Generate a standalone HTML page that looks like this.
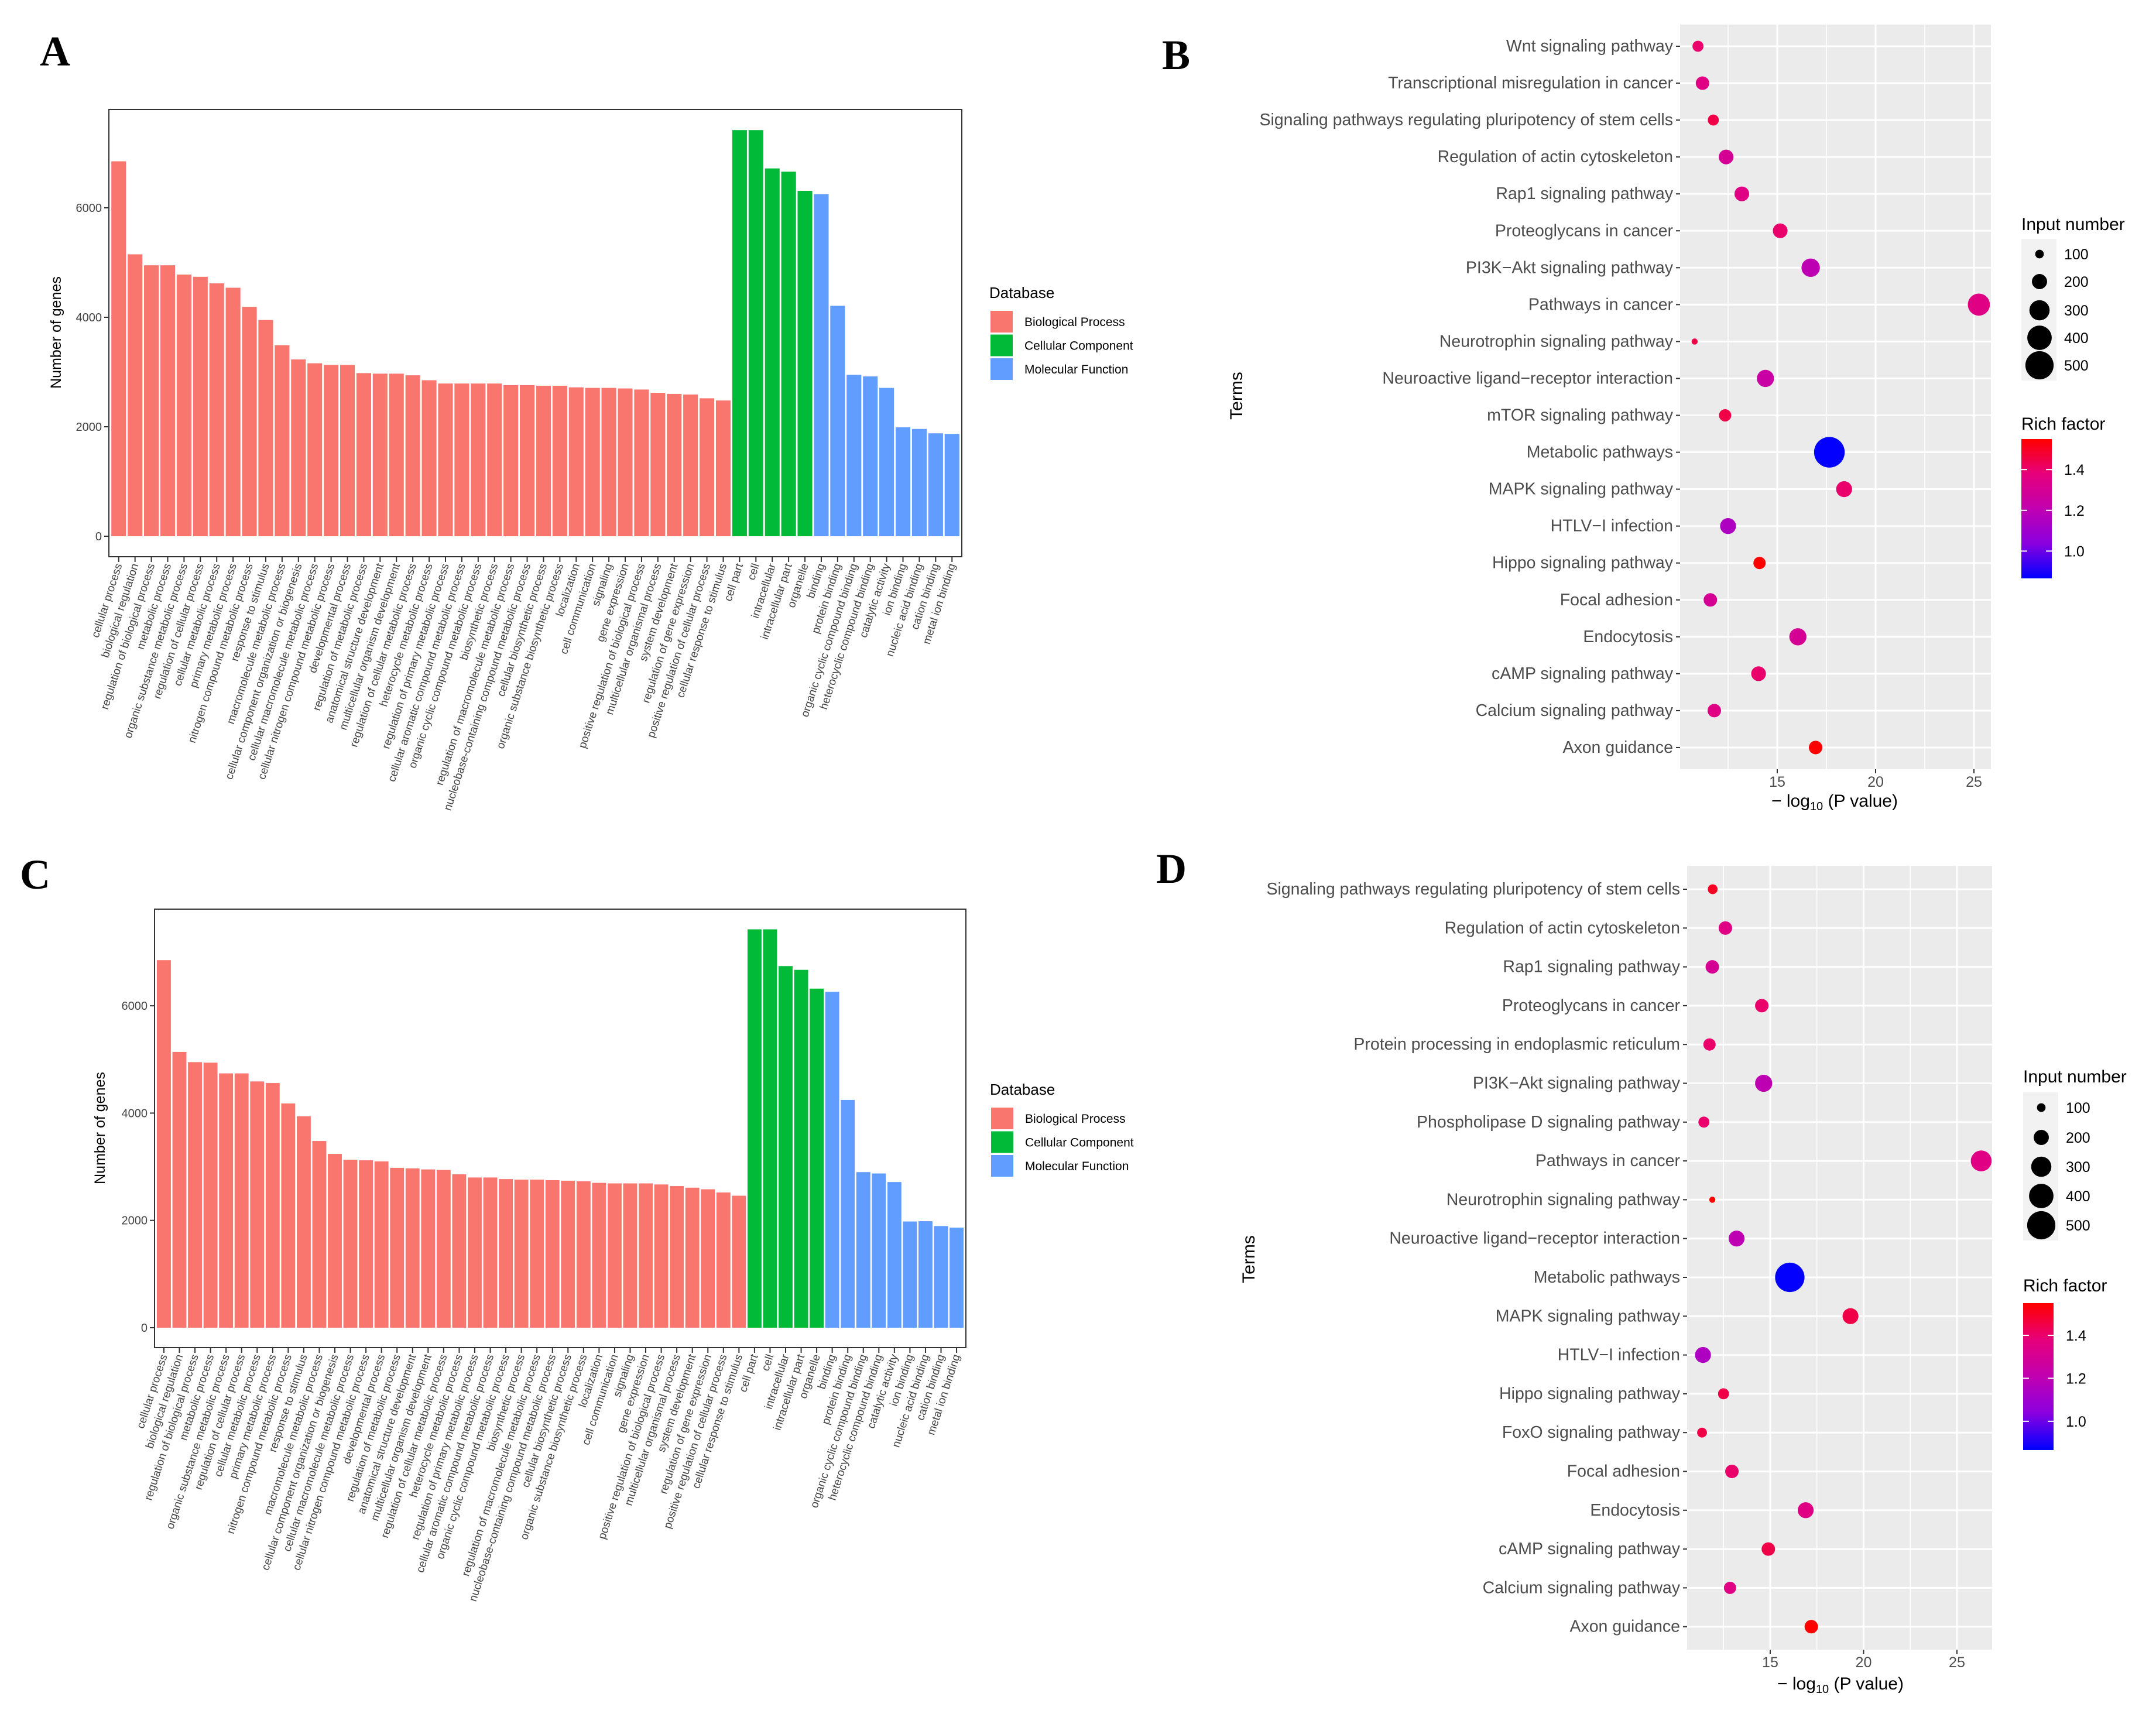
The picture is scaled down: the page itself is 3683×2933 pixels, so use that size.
<!DOCTYPE html>
<html><head><meta charset="utf-8"><style>
html,body{margin:0;padding:0;background:#fff;}
svg{display:block;font-family:"Liberation Sans",sans-serif;}
.pl{font-family:"Liberation Serif",serif;font-weight:bold;font-size:72px;}
</style></head><body>
<svg id="fig" width="3683" height="2933" viewBox="0 0 3683 2933" xmlns="http://www.w3.org/2000/svg">
<text class="pl" x="68" y="112">A</text>
<text class="pl" x="1985" y="118">B</text>
<text class="pl" x="34" y="1518">C</text>
<text class="pl" x="1975" y="1508">D</text>
</svg>
<script>
const goTerms = ["cellular process","biological regulation","regulation of biological process","metabolic process","organic substance metabolic process","regulation of cellular process","cellular metabolic process","primary metabolic process","nitrogen compound metabolic process","response to stimulus","macromolecule metabolic process","cellular component organization or biogenesis","cellular macromolecule metabolic process","cellular nitrogen compound metabolic process","developmental process","regulation of metabolic process","anatomical structure development","multicellular organism development","regulation of cellular metabolic process","heterocycle metabolic process","regulation of primary metabolic process","cellular aromatic compound metabolic process","organic cyclic compound metabolic process","biosynthetic process","regulation of macromolecule metabolic process","nucleobase-containing compound metabolic process","cellular biosynthetic process","organic substance biosynthetic process","localization","cell communication","signaling","gene expression","positive regulation of biological process","multicellular organismal process","system development","regulation of gene expression","positive regulation of cellular process","cellular response to stimulus","cell part","cell","intracellular","intracellular part","organelle","binding","protein binding","organic cyclic compound binding","heterocyclic compound binding","catalytic activity","ion binding","nucleic acid binding","cation binding","metal ion binding"];
const goCategories = ["BP","BP","BP","BP","BP","BP","BP","BP","BP","BP","BP","BP","BP","BP","BP","BP","BP","BP","BP","BP","BP","BP","BP","BP","BP","BP","BP","BP","BP","BP","BP","BP","BP","BP","BP","BP","BP","BP","CC","CC","CC","CC","CC","MF","MF","MF","MF","MF","MF","MF","MF","MF"];
const geneCountsA = [6850,5150,4950,4950,4780,4740,4620,4540,4190,3950,3490,3230,3160,3130,3130,2980,2970,2970,2940,2850,2790,2790,2790,2790,2760,2760,2750,2750,2720,2710,2710,2700,2680,2620,2600,2590,2520,2480,7420,7420,6720,6660,6310,6250,4210,2950,2920,2710,1990,1960,1880,1870];
const geneCountsC = [6850,5140,4950,4940,4740,4740,4590,4560,4180,3940,3480,3240,3130,3120,3100,2980,2970,2950,2940,2860,2800,2800,2770,2760,2760,2750,2740,2730,2700,2690,2690,2690,2670,2640,2610,2580,2520,2460,7425,7425,6740,6670,6320,6260,4245,2900,2875,2715,1980,1985,1895,1865];
const yTicksBar = [0,2000,4000,6000];
const dbNames = ["Biological Process","Cellular Component","Molecular Function"];
const dbNamesC = ["Biological Process","Cellular Component","Molecular Function"];

const termsB = ["Wnt signaling pathway","Transcriptional misregulation in cancer","Signaling pathways regulating pluripotency of stem cells","Regulation of actin cytoskeleton","Rap1 signaling pathway","Proteoglycans in cancer","PI3K\u2212Akt signaling pathway","Pathways in cancer","Neurotrophin signaling pathway","Neuroactive ligand\u2212receptor interaction","mTOR signaling pathway","Metabolic pathways","MAPK signaling pathway","HTLV\u2212I infection","Hippo signaling pathway","Focal adhesion","Endocytosis","cAMP signaling pathway","Calcium signaling pathway","Axon guidance"];
const pvalB = [10.97,11.2,11.75,12.4,13.2,15.15,16.7,25.25,10.8,14.4,12.35,17.65,18.4,12.5,14.1,11.6,16.05,14.05,11.8,16.95];
const inputB = [133,171,133,192,192,192,262,342,71,237,152,571,214,214,152,171,237,192,171,171];
const richB = [1.4,1.35,1.45,1.3,1.35,1.4,1.2,1.35,1.45,1.25,1.45,0.87,1.4,1.15,1.55,1.3,1.3,1.4,1.35,1.55];

const termsD = ["Signaling pathways regulating pluripotency of stem cells","Regulation of actin cytoskeleton","Rap1 signaling pathway","Proteoglycans in cancer","Protein processing in endoplasmic reticulum","PI3K\u2212Akt signaling pathway","Phospholipase D signaling pathway","Pathways in cancer","Neurotrophin signaling pathway","Neuroactive ligand\u2212receptor interaction","Metabolic pathways","MAPK signaling pathway","HTLV\u2212I infection","Hippo signaling pathway","FoxO signaling pathway","Focal adhesion","Endocytosis","cAMP signaling pathway","Calcium signaling pathway","Axon guidance"];
const pvalD = [11.92,12.6,11.9,14.55,11.75,14.65,11.45,26.3,11.9,13.2,16.05,19.3,11.4,12.5,11.35,12.95,16.9,14.9,12.85,17.2];
const inputD = [116,171,171,171,152,237,133,314,71,214,535,214,214,133,116,171,214,171,152,171];
const richD = [1.5,1.35,1.3,1.4,1.4,1.2,1.4,1.35,1.55,1.2,0.87,1.45,1.15,1.45,1.45,1.4,1.35,1.45,1.35,1.55];
const xTicksDot = [15,20,25];
const sizeLegend = [100,200,300,400,500];
const richTicks = [1.0,1.2,1.4];

const NS="http://www.w3.org/2000/svg";
const svg=document.getElementById('fig');
function mk(tag,attrs,parent){const e=document.createElementNS(NS,tag);for(const k in attrs)e.setAttribute(k,attrs[k]);(parent||svg).appendChild(e);return e;}
const catColor={BP:"#F8766D",CC:"#00BA38",MF:"#619CFF"};
const legColors=["#F8766D","#00BA38","#619CFF"];

function barChart(g,L,R,zeroY,pxPer,top,bottom,values,legX,legY,names,ytX,ytY){
  const n=values.length;
  const yS=v=>zeroY-v*pxPer;
  const pitch=(R-L)/(n+0.2);
  const xC=i=>L+pitch*(0.6+i);
  const frame=mk('rect',{x:L,y:top,width:R-L,height:bottom-top,fill:'#fff',stroke:'#333',"stroke-width":2},g);
  
  
  values.forEach((v,i)=>{
    const b=mk('rect',{x:xC(i)-pitch*0.45,y:yS(v),width:pitch*0.9,height:v*pxPer,fill:catColor[goCategories[i]]},g);
    
    
    mk('line',{x1:xC(i),x2:xC(i),y1:bottom,y2:bottom+9,stroke:'#333',"stroke-width":2},g);
    const t=mk('text',{x:0,y:0,"font-size":19,fill:'#444',"text-anchor":'end',transform:`translate(${xC(i)+6},${bottom+14}) rotate(-72)`},g);
    t.textContent=goTerms[i];
    
    
  });
  yTicksBar.forEach(v=>{
    mk('line',{x1:L-8,x2:L,y1:yS(v),y2:yS(v),stroke:'#333',"stroke-width":2},g);
    const t=mk('text',{x:L-12,y:yS(v)+7,"font-size":20,fill:'#444',"text-anchor":'end'},g);
    t.textContent=v;
    
    
  });
  const yt=mk('text',{x:0,y:0,"font-size":25,fill:'#000',"text-anchor":'middle',transform:`translate(${ytX},${ytY}) rotate(-90)`},g);
  yt.textContent='Number of genes';
  
  
  const lt=mk('text',{x:legX,y:legY,"font-size":26,fill:'#000'},g);
  lt.textContent='Database';
  
  
  names.forEach((nm,k)=>{
    const r=mk('rect',{x:legX+2,y:legY+22+k*40.5,width:38,height:37,fill:legColors[k]},g);
    
    
    const t=mk('text',{x:legX+60,y:legY+48+k*40.5,"font-size":21,fill:'#000'},g);
    t.textContent=nm;
    
    
  });
}
const gA=mk('g',{});


barChart(gA,186,1643,916,187/2000,187,951,geneCountsA,1690,509,dbNames,104,568);
const gC=mk('g',{});


barChart(gC,264,1650,2268,183.3/2000,1553,2302,geneCountsC,1691,1870,dbNamesC,179,1927);

const rampStops=[[0,0,255],[138,0,224],[192,0,176],[230,0,122],[255,0,0]];
function rich2color(v){let t=(v-0.866)/(1.55-0.866);t=Math.max(0,Math.min(1,t));
  const p=t*4;const k=Math.min(3,Math.floor(p));const f=p-k;const a=rampStops[k],b=rampStops[k+1];
  return `rgb(${Math.round(a[0]+(b[0]-a[0])*f)},${Math.round(a[1]+(b[1]-a[1])*f)},${Math.round(a[2]+(b[2]-a[2])*f)})`;}
function rad(n){return Math.max(3,1.355*Math.sqrt(n)-6.2);}

function dotChart(g,o,terms,pv,inp,rich){
  const xS=v=>o.L+(v-o.xmin)*o.ppu;
  const yS=i=>o.y0+i*o.dy;
  const bg=mk('rect',{x:o.L,y:o.T,width:o.R-o.L,height:o.B-o.T,fill:'#EBEBEB'},g);
  
  
  xTicksDot.forEach(v=>{
    mk('line',{x1:xS(v-2.5),x2:xS(v-2.5),y1:o.T,y2:o.B,stroke:'#fff',"stroke-width":1.5},g);
  });
  mk('line',{x1:xS(27.5),x2:xS(27.5),y1:o.T,y2:o.B,stroke:'#fff',"stroke-width":1.5},g);
  terms.forEach((tm,i)=>{
    mk('line',{x1:o.L,x2:o.R,y1:yS(i),y2:yS(i),stroke:'#fff',"stroke-width":3},g);
  });
  xTicksDot.forEach(v=>{
    mk('line',{x1:xS(v),x2:xS(v),y1:o.T,y2:o.B,stroke:'#fff',"stroke-width":3},g);
    mk('line',{x1:xS(v),x2:xS(v),y1:o.B,y2:o.B+7,stroke:'#333',"stroke-width":2},g);
    const t=mk('text',{x:xS(v),y:o.B+30,"font-size":25,fill:'#4d4d4d',"text-anchor":'middle'},g);
    t.textContent=v;
    
    
  });
  terms.forEach((tm,i)=>{
    mk('line',{x1:o.L-7,x2:o.L,y1:yS(i),y2:yS(i),stroke:'#333',"stroke-width":2},g);
    const t=mk('text',{x:o.L-12,y:yS(i)+9,"font-size":28.5,fill:'#4d4d4d',"text-anchor":'end'},g);
    t.textContent=tm;
    
    
    const c=mk('circle',{cx:xS(pv[i]),cy:yS(i),r:rad(inp[i]),fill:rich2color(rich[i])},g);
    
    
  });
  const xt=mk('text',{x:o.xtX,y:o.xtY,"font-size":30,fill:'#000',"text-anchor":'middle'},g);
  xt.innerHTML='\u2212 log<tspan font-size="20" dy="6">10</tspan><tspan dy="-6"> (P value)</tspan>';
  
  
  const yt=mk('text',{x:0,y:0,"font-size":30,fill:'#000',"text-anchor":'middle',transform:`translate(${o.ytX},${o.ytY}) rotate(-90)`},g);
  yt.textContent='Terms';
  
  
  const st=mk('text',{x:o.lx,y:o.sT,"font-size":30,fill:'#000'},g);
  st.textContent='Input number';
  
  
  mk('rect',{x:o.lx,y:o.sY[0]-26,width:60,height:o.sY[4]-o.sY[0]+52,fill:'#F2F2F2'},g);
  sizeLegend.forEach((n,k)=>{
    const c=mk('circle',{cx:o.lx+31,cy:o.sY[k],r:rad(n),fill:'#000'},g);
    
    
    const t=mk('text',{x:o.lx+73,y:o.sY[k]+9,"font-size":25,fill:'#000'},g);
    t.textContent=n;
    
    
  });
  const ct=mk('text',{x:o.lx,y:o.cT,"font-size":30,fill:'#000'},g);
  ct.textContent='Rich factor';
  
  
  const gid='grad'+o.id;
  const defs=mk('defs',{},g);
  const lg=mk('linearGradient',{id:gid,x1:0,y1:1,x2:0,y2:0},defs);
  for(let s=0;s<=20;s++){const v=0.866+(1.55-0.866)*s/20;mk('stop',{offset:s/20,"stop-color":rich2color(v)},lg);}
  const cb=mk('rect',{x:o.lx,y:o.cb0,width:52,height:o.cb1-o.cb0,fill:`url(#${gid})`},g);
  
  
  const cy=v=>o.cb1-(v-0.866)/(1.55-0.866)*(o.cb1-o.cb0);
  richTicks.forEach(v=>{
    mk('line',{x1:o.lx,x2:o.lx+10,y1:cy(v),y2:cy(v),stroke:'#fff',"stroke-width":2},g);
    mk('line',{x1:o.lx+42,x2:o.lx+52,y1:cy(v),y2:cy(v),stroke:'#fff',"stroke-width":2},g);
    const t=mk('text',{x:o.lx+73,y:cy(v)+9,"font-size":25,fill:'#000'},g);
    t.textContent=v.toFixed(1);
    
    
  });
}
const gB=mk('g',{});


dotChart(gB,{id:'B',L:2870,R:3401,T:42,B:1314,xmin:10.06,ppu:33.6,y0:79,dy:63.05,xtX:3134,xtY:1378,ytX:2122,ytY:676,lx:3453,sT:393,sY:[434,481,530,577,624],cT:734,cb0:750,cb1:988},termsB,pvalB,inputB,richB);
const gD=mk('g',{});


dotChart(gD,{id:'D',L:2882,R:3403,T:1479,B:2818,xmin:10.55,ppu:31.9,y0:1519,dy:66.3,xtX:3144,xtY:2886,ytX:2143,ytY:2151,lx:3456,sT:1849,sY:[1892,1943,1993,2043,2093],cT:2206,cb0:2226,cb1:2477},termsD,pvalD,inputD,richD);
</script>
</body></html>
